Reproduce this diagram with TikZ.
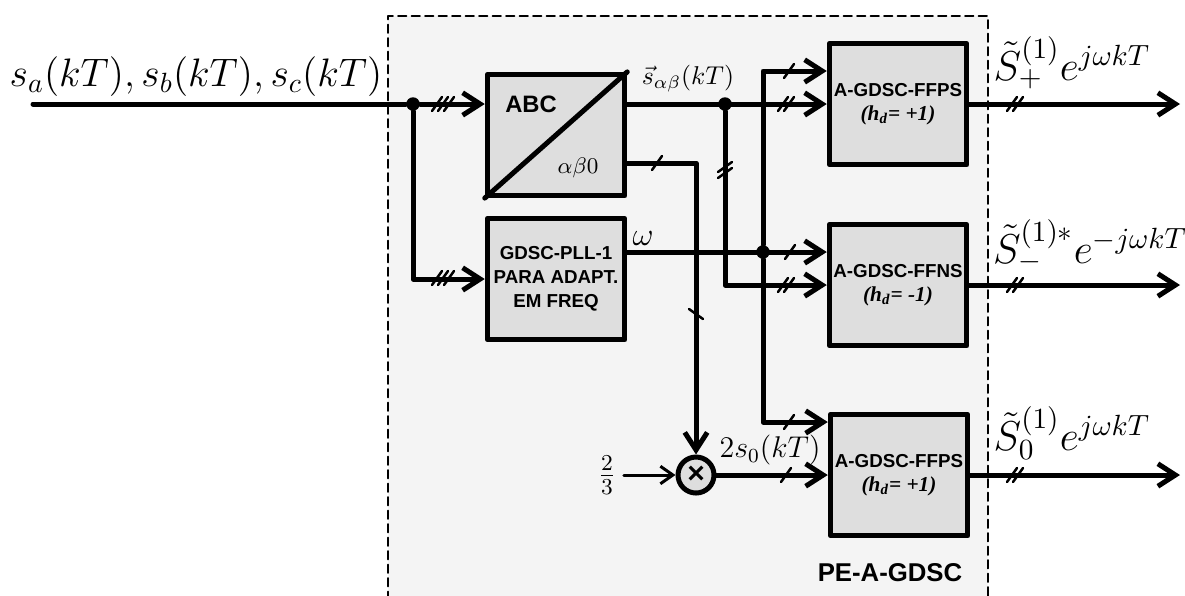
\RequirePackage{fix-cm}
\documentclass[tikz,border=0pt]{standalone}
\usepackage{fontspec}
\setsansfont{Liberation Sans}
\newfontfamily\hdfont{Liberation Serif}
\usetikzlibrary{arrows.meta,shadows}
\definecolor{panelgray}{HTML}{F4F4F4}
\definecolor{boxgray}{HTML}{DEDEDE}
\begin{document}
\begin{tikzpicture}[x=0.4pt, y=-0.4pt, line cap=round, line join=round,
  >={Straight Barb[length=7pt,width=9pt]},
  wire/.style={line width=2pt},
  block/.style={draw, line width=2pt, fill=boxgray, minimum width=55pt, minimum height=48.5pt,
    inner sep=0pt, align=center, font=\sffamily\bfseries\fontsize{7.5}{9.5}\selectfont,
    drop shadow={shadow xshift=1pt, shadow yshift=-1pt, opacity=.3}},
  lbl/.style={inner sep=0pt},
  dot/.style={circle, fill, inner sep=0pt, minimum size=5.4pt},
  pics/bus/.style={code={\foreach \k in {1,...,#1} \draw[line width=1pt] ({\k*6-#1*3-3-5},7) -- ++(10,-14);}}]
  \useasboundingbox (0,0) rectangle (1185,595);
  \fill[panelgray] (388,16) rectangle (988,600);
  \draw[line width=0.7pt, dash pattern=on 3.4pt off 2pt] (388,600) -- (388,16) -- (988,16) -- (988,600);

  \node[block] (abc) at (556,135) {};
  \draw[wire] (abc.south west) -- (abc.north east);
  \node[lbl, font=\sffamily\bfseries\fontsize{9.5}{11}\selectfont] (abclbl) at (531,104) {ABC};
  \node[lbl, font=\fontsize{9}{11}\selectfont] (ablbl) at (578,168) {$\alpha\beta0$};
  \node[block] (pll) at (556,279) {GDSC-PLL-1\\PARA ADAPT.\\EM FREQ};
  \node[block] (ffp) at (898,104) {A-GDSC-FFPS\\{\hdfont\itshape\fontsize{8.5}{9.5}\selectfont(h\textsubscript{d}= +1)}};
  \node[block] (ffn) at (898,285) {A-GDSC-FFNS\\{\hdfont\itshape\fontsize{8.5}{9.5}\selectfont(h\textsubscript{d}= -1)}};
  \node[block] (ffz) at (899,475) {A-GDSC-FFPS\\{\hdfont\itshape\fontsize{8.5}{9.5}\selectfont(h\textsubscript{d}= +1)}};
  \node[circle, draw, line width=2pt, fill=boxgray, minimum size=14.4pt, inner sep=0pt,
    font=\sffamily\bfseries\fontsize{12}{12}\selectfont] (mult) at (696,475) {×};
  \node[lbl, font=\fontsize{13}{15}\selectfont] (frac) at (607,475) {$\frac{2}{3}$};

  \coordinate (in) at (33,104);
  \node[dot] (j1) at (413,104) {};
  \node[dot] (d1) at (725,104) {};
  \node[dot] (d2) at (763,252) {};
  \coordinate (out1) at (1180,104);
  \coordinate (out2) at (1180,285);
  \coordinate (out3) at (1180,475);

  \draw[wire] (in) -- (j1);
  \draw[wire,->] (j1) -- (j1 -| abc.west);
  \draw[wire,->] (j1) |- (pll.west);
  \draw[wire,->] (j1 -| abc.east) -- (ffp.west);
  \draw[wire,->] ([yshift=-11.2pt]abc.east) -| (mult.north);
  \draw[wire,->] (d1) |- (ffn.west);
  \draw[wire,->] (pll.east |- d2) -- (ffn.west |- d2);
  \draw[wire,->] (d2) |- ([yshift=13.2pt]ffp.west);
  \draw[wire,->] (d2) |- ([yshift=21.2pt]ffz.west);
  \draw[line width=1.2pt,-{Straight Barb[length=5pt,width=7pt]}] ([xshift=3pt]frac.east) -- (mult);
  \draw[wire,->] (mult) -- (ffz.west);
  \draw[wire,->] (ffp.east) -- (out1);
  \draw[wire,->] (ffn.east) -- (out2);
  \draw[wire,->] (ffz.east) -- (out3);

  \pic at (443,104) {bus=3};
  \pic at (443,278) {bus=3};
  \pic at (657,163) {bus=1};
  \pic[rotate=90] at (696,314) {bus=1};
  \pic[rotate=90, yscale=-1] at (725,170) {bus=2};
  \pic at (789,71) {bus=1};
  \pic at (786,104) {bus=2};
  \pic at (790,252) {bus=1};
  \pic at (786,285) {bus=2};
  \pic at (789,422) {bus=1};
  \pic at (786,475) {bus=1};
  \pic at (1015,104) {bus=2};
  \pic at (1015,285) {bus=2};
  \pic at (1015,475) {bus=2};

  \node[lbl, font=\fontsize{15.9}{18}\selectfont] (inlbl) at (196,77) {$s_a(kT), s_b(kT), s_c(kT)$};
  \node[lbl, font=\fontsize{10.3}{13}\selectfont] (salbl) at (688,79) {$\vec{s}_{\alpha\beta}(kT)$};
  \node[lbl, font=\fontsize{13}{15}\selectfont] (wlbl) at (643,238) {$\omega$};
  \node[lbl, font=\fontsize{12}{14}\selectfont] (s0lbl) at (770,450) {$2s_0(kT)$};
  \node[lbl, font=\fontsize{16.7}{19}\selectfont] (o1lbl) at (1072,63) {$\tilde{S}_{+}^{(1)}e^{j\omega kT}$};
  \node[lbl, font=\fontsize{16.7}{19}\selectfont] (o2lbl) at (1090,246) {$\tilde{S}_{-}^{(1)*}e^{-j\omega kT}$};
  \node[lbl, font=\fontsize{16.7}{19}\selectfont] (o3lbl) at (1072,433) {$\tilde{S}_{0}^{(1)}e^{j\omega kT}$};
  \node[lbl, font=\sffamily\bfseries\fontsize{10.3}{12}\selectfont] (pelbl) at (890,573) {PE-A-GDSC};
\end{tikzpicture}
\end{document}
